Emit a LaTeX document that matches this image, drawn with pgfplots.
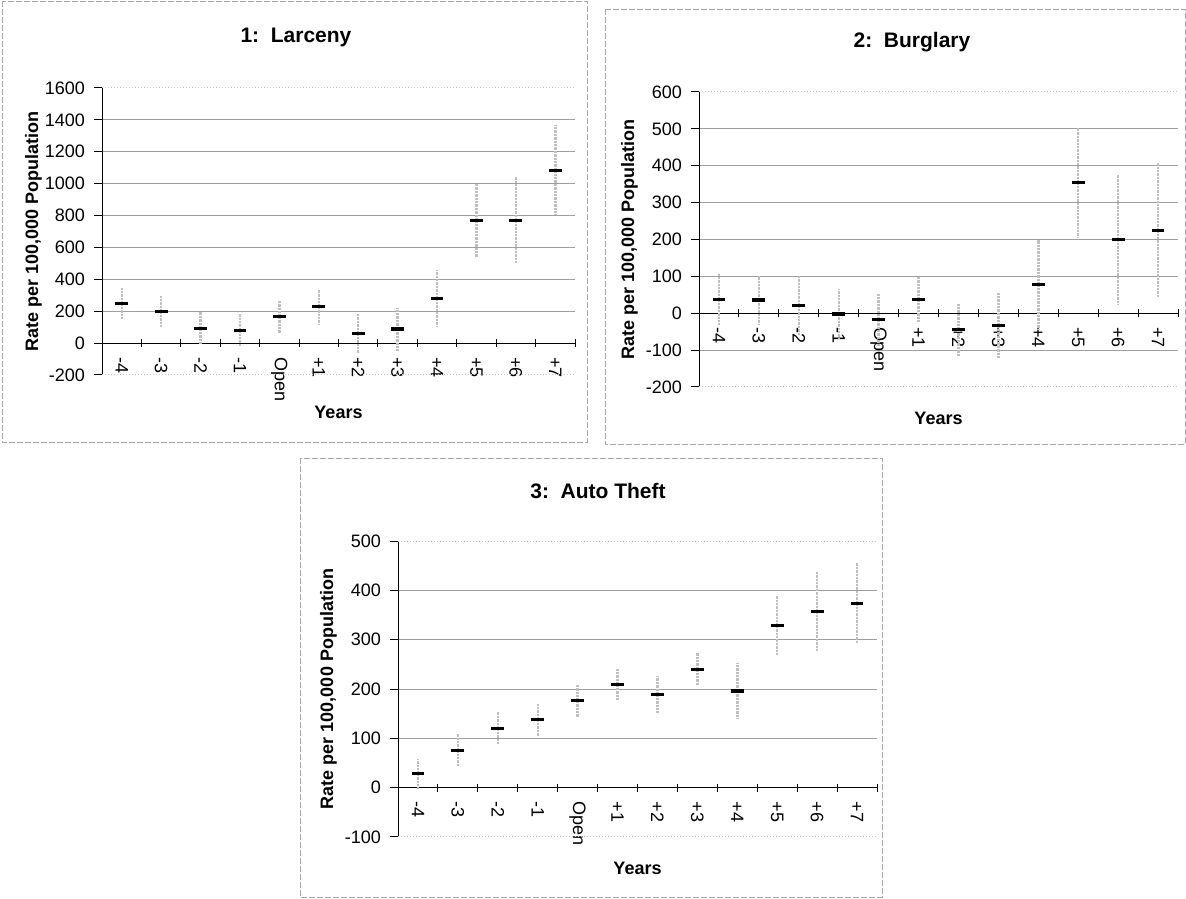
\documentclass[border=0pt]{standalone}
\usepackage{pgfplots}
\pgfplotsset{compat=1.18}
\usepackage{fontspec}
\setmainfont{Liberation Sans}

\pgfplotstableread{
x y e
0 249 95
1 197 96
2 92 104
3 81 104
4 165 106
5 228 108
6 61 125
7 88 135
8 280 180
9 770 229
10 770 270
11 1085 283
}\larceny

\pgfplotstableread{
x y e
0 37 70
1 36 66
2 21 79
3 -2 68
4 -18 70
5 37 63
6 -45 72
7 -33 88
8 78 121
9 355 148
10 200 176
11 225 183
}\burglary

\pgfplotstableread{
x y e
0 28 30
1 76 34
2 120 33
3 138 33
4 176 32
5 209 32
6 189 37
7 240 34
8 196 57
9 328 62
10 357 80
11 374 82
}\auto

\pgfplotsset{
  crime/.style={
    scale only axis,
    anchor=south west,
    xmin=-0.5, xmax=11.5,
    axis x line=middle,
    axis y line=left,
    axis line style={-, black, line width=0.5pt},
    hide obscured x ticks=false,
    hide obscured y ticks=false,
    xtick={-0.5,0.5,...,11.5},
    xticklabels={},
    xtick align=center,
    ytick align=outside,
    major tick length=4pt,
    tick style={black, line width=0.5pt},
    extra x ticks={0,1,2,3,4,5,6,7,8,9,10,11},
    extra x tick labels={-4,-3,-2,-1,Open,+1,+2,+3,+4,+5,+6,+7},
    extra x tick style={major tick length=0pt,
      xticklabel style={yshift=-3.5pt, rotate=-90, anchor=west}},
    ymajorgrids,
    major grid style={gray!75, line width=0.5pt},
    extra y tick style={major grid style={gray!45, line width=0.5pt, densely dotted}},
    tick label style={font=\fontsize{9}{10}\selectfont},
    yticklabel style={xshift=-1pt},
    /pgf/number format/assume math mode=true,
    /pgf/number format/1000 sep={},
    ylabel={Rate per 100,000 Population},
    xlabel={Years},
    label style={font=\fontsize{9}{10}\selectfont\bfseries},
    ylabel style={at={(axis description cs:-0.145,0.5)}, anchor=center},
    clip=false,
  },
  crimeplot/.style={
    only marks, mark=-, mark size=3.2pt,
    mark options={black, line width=1.6pt},
    error bars/.cd, y dir=both, y explicit, error mark=none,
    error bar style={gray!50, line width=1.2pt, dash pattern=on 1.2pt off 0.5pt},
  },
}

\begin{document}
\begin{tikzpicture}
\useasboundingbox (0,0) rectangle (593pt,449pt);

% Panel 1
\begin{axis}[crime,
  at={(51pt,261.5pt)}, width=236.5pt, height=143.5pt,
  ymin=-200, ymax=1600,
  ytick={0,200,...,1400}, extra y ticks={-200,1600},
  xlabel style={at={(axis description cs:0.5,-0.132)}, anchor=center},
]
\addplot[crimeplot] table[x=x, y=y, y error=e] {\larceny};
\end{axis}

% Panel 2
\begin{axis}[crime,
  at={(349.5pt,255.5pt)}, width=239.5pt, height=147.5pt,
  ymin=-200, ymax=600,
  ytick={-100,0,...,500}, extra y ticks={-200,600},
  xlabel style={at={(axis description cs:0.5,-0.105)}, anchor=center},
]
\addplot[crimeplot] table[x=x, y=y, y error=e] {\burglary};
\end{axis}

% Panel 3
\begin{axis}[crime,
  at={(199pt,30.5pt)}, width=239.5pt, height=148pt,
  ymin=-100, ymax=500,
  ytick={0,100,...,400}, extra y ticks={-100,500},
  xlabel style={at={(axis description cs:0.5,-0.105)}, anchor=center},
]
\addplot[crimeplot] table[x=x, y=y, y error=e] {\auto};
\end{axis}

% titles
\node[font=\fontsize{10.5}{12}\selectfont\bfseries] at (148pt,430.5pt) {1:\ \ Larceny};
\node[font=\fontsize{10.5}{12}\selectfont\bfseries] at (456pt,428pt) {2:\ \ Burglary};
\node[font=\fontsize{10.5}{12}\selectfont\bfseries] at (299pt,203.5pt) {3:\ \ Auto Theft};

% frames
\draw[gray!70, line width=0.4pt, dash pattern=on 3pt off 1pt] (1pt,448.5pt) rectangle (293.5pt,228pt);
\draw[gray!70, line width=0.4pt, dash pattern=on 3pt off 1pt] (302.5pt,444.5pt) rectangle (592.5pt,227pt);
\draw[gray!70, line width=0.4pt, dash pattern=on 3pt off 1pt] (150pt,220pt) rectangle (441pt,0.5pt);
\end{tikzpicture}
\end{document}
